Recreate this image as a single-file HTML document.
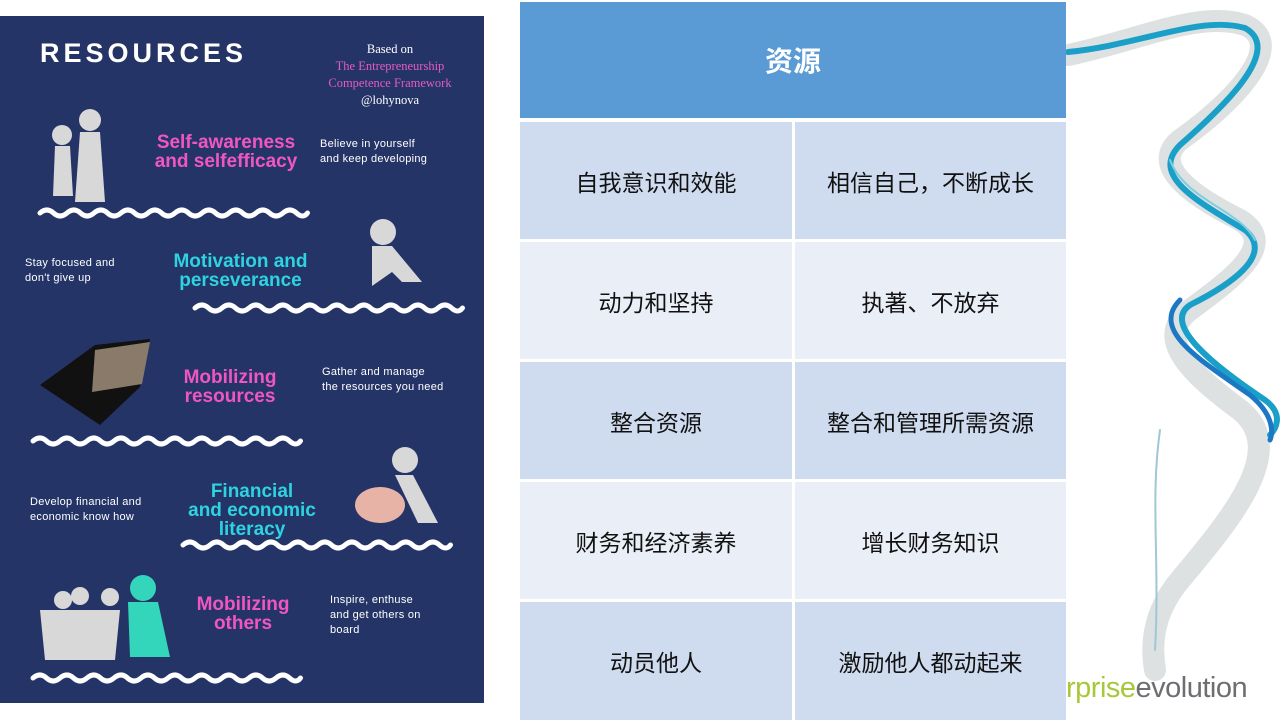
<!DOCTYPE html>
<html><head><meta charset="utf-8"><style>
body{margin:0;width:1280px;height:720px;background:#fff;position:relative;overflow:hidden;font-family:"Liberation Sans","Noto Sans CJK SC",sans-serif}
.p{position:absolute;left:0;top:16px;width:484px;height:687px;background:#253466}
.t{position:absolute;color:#fff;font-family:"Liberation Sans",sans-serif}
.h{font-weight:bold;line-height:19px;font-size:19px;text-align:center;position:absolute}
.s{font-size:11px;line-height:15px;color:#fff;position:absolute;letter-spacing:0.3px}
.c{position:absolute;display:flex;align-items:center;justify-content:center;font-size:23px;color:#111}
</style></head><body>
<div class="p"></div>
<div class="t" style="left:40px;top:38px;font-size:27px;font-weight:bold;letter-spacing:4px">RESOURCES</div>
<div class="t" style="left:300px;top:41px;width:180px;text-align:center;font-family:'Liberation Serif',serif;font-size:12.5px;line-height:17px">Based on<br><span style="color:#e45bc4">The Entrepreneurship<br>Competence Framework</span><br>@lohynova</div>
<div class="h" style="left:148px;top:133px;width:156px;color:#f056c3">Self-awareness<br>and selfefficacy</div>
<div class="s" style="left:320px;top:137px">Believe in yourself<br>and keep developing</div>
<div class="h" style="left:163px;top:252px;width:155px;color:#2ed2e0">Motivation and<br>perseverance</div>
<div class="s" style="left:25px;top:256px">Stay focused and<br>don't give up</div>
<div class="h" style="left:175px;top:368px;width:110px;color:#f056c3">Mobilizing<br>resources</div>
<div class="s" style="left:322px;top:365px">Gather and manage<br>the resources you need</div>
<div class="h" style="left:182px;top:482px;width:140px;color:#2ed2e0">Financial<br>and economic<br>literacy</div>
<div class="s" style="left:30px;top:495px">Develop financial and<br>economic know how</div>
<div class="h" style="left:188px;top:595px;width:110px;color:#f056c3">Mobilizing<br>others</div>
<div class="s" style="left:330px;top:593px">Inspire, enthuse<br>and get others on<br>board</div>
<svg width="1280" height="720" style="position:absolute;left:0;top:0" fill="none">
<g stroke="#fff" stroke-width="5" stroke-linecap="round">
<path d="M40 213 q7 -6 13.5 0 t13.5 0 t13.5 0 t13.5 0 t13.5 0 t13.5 0 t13.5 0 t13.5 0 t13.5 0 t13.5 0 t13.5 0 t13.5 0 t13.5 0 t13.5 0 t13.5 0 t13.5 0 t13.5 0 t13.5 0 t13.5 0 t11 0"/>
<path d="M195 308 q7 -6 13.5 0 t13.5 0 t13.5 0 t13.5 0 t13.5 0 t13.5 0 t13.5 0 t13.5 0 t13.5 0 t13.5 0 t13.5 0 t13.5 0 t13.5 0 t13.5 0 t13.5 0 t13.5 0 t13.5 0 t13.5 0 t13.5 0 t11 0"/>
<path d="M33 441 q7 -6 13.5 0 t13.5 0 t13.5 0 t13.5 0 t13.5 0 t13.5 0 t13.5 0 t13.5 0 t13.5 0 t13.5 0 t13.5 0 t13.5 0 t13.5 0 t13.5 0 t13.5 0 t13.5 0 t13.5 0 t13.5 0 t13.5 0 t11 0"/>
<path d="M183 545 q7 -6 13.5 0 t13.5 0 t13.5 0 t13.5 0 t13.5 0 t13.5 0 t13.5 0 t13.5 0 t13.5 0 t13.5 0 t13.5 0 t13.5 0 t13.5 0 t13.5 0 t13.5 0 t13.5 0 t13.5 0 t13.5 0 t13.5 0 t11 0"/>
<path d="M33 678 q7 -6 13.5 0 t13.5 0 t13.5 0 t13.5 0 t13.5 0 t13.5 0 t13.5 0 t13.5 0 t13.5 0 t13.5 0 t13.5 0 t13.5 0 t13.5 0 t13.5 0 t13.5 0 t13.5 0 t13.5 0 t13.5 0 t13.5 0 t11 0"/>
</g>
<!-- figures -->
<g fill="#d8d8d8">
<circle cx="90" cy="120" r="11"/><path d="M80 132 h20 l5 70 h-30z"/>
<circle cx="62" cy="135" r="10"/><path d="M55 146 h15 l3 50 h-20z"/>
<circle cx="383" cy="232" r="13"/><path d="M372 246 l20 0 l30 36 l-20 0 l-10 -10 l-20 14z"/>
<path d="M40 385 l55 -40 l55 -6 l-10 48 l-40 38 z" fill="#111"/>
<path d="M95 350 l55 -8 l-8 42 l-50 8z" fill="#8a7a6a"/>
<circle cx="405" cy="460" r="13"/><path d="M395 475 l18 0 l25 48 l-20 0z"/>
<ellipse cx="380" cy="505" rx="25" ry="18" fill="#e7b3a6"/>
<circle cx="63" cy="600" r="9"/><circle cx="80" cy="596" r="9"/><circle cx="110" cy="597" r="9"/>
<path d="M40 610 l80 0 l-5 50 l-70 0z"/>
<circle cx="143" cy="588" r="13" fill="#33d6bb"/><path d="M128 602 l30 0 l12 55 l-40 0z" fill="#33d6bb"/>
</g>
<!-- ribbon -->
<g stroke-linecap="round">
<path d="M1068 55 C1140 40 1200 10 1245 25 C1290 45 1230 105 1180 140 C1150 165 1190 195 1240 220 C1280 245 1230 280 1190 310 C1150 340 1200 380 1240 410 C1290 450 1230 520 1180 580 C1155 610 1150 640 1155 670" stroke="#d0d4d6" stroke-width="22" opacity="0.7"/>
<path d="M1068 52 C1140 45 1200 15 1245 28 C1285 50 1220 110 1180 145 C1150 175 1195 200 1245 230 C1275 255 1230 285 1190 305 C1160 325 1220 370 1265 400 C1285 415 1275 430 1270 435" stroke="#1aa0c8" stroke-width="6"/>
<path d="M1180 300 C1150 330 1200 360 1250 395 C1280 420 1270 440 1270 440" stroke="#1d78c3" stroke-width="5"/>
<path d="M1170 160 C1185 200 1240 210 1255 240" stroke="#7fcde0" stroke-width="2"/>
<path d="M1160 430 C1150 500 1160 560 1155 650" stroke="#9fc8d6" stroke-width="2"/>
</g>
</svg>
<div style="position:absolute;left:520px;top:2px;width:546px;height:116px;background:#5b9bd5;color:#fff;font-size:28px;font-weight:bold;display:flex;align-items:center;justify-content:center">资源</div>
<div class="c" style="left:520px;top:122px;width:272px;height:117px;background:#cfdbef">自我意识和效能</div>
<div class="c" style="left:795px;top:122px;width:271px;height:117px;background:#cfdbef">相信自己，不断成长</div>
<div class="c" style="left:520px;top:242px;width:272px;height:117px;background:#e9eef7">动力和坚持</div>
<div class="c" style="left:795px;top:242px;width:271px;height:117px;background:#e9eef7">执著、不放弃</div>
<div class="c" style="left:520px;top:362px;width:272px;height:117px;background:#cfdbef">整合资源</div>
<div class="c" style="left:795px;top:362px;width:271px;height:117px;background:#cfdbef">整合和管理所需资源</div>
<div class="c" style="left:520px;top:482px;width:272px;height:117px;background:#e9eef7">财务和经济素养</div>
<div class="c" style="left:795px;top:482px;width:271px;height:117px;background:#e9eef7">增长财务知识</div>
<div class="c" style="left:520px;top:602px;width:272px;height:118px;background:#cfdbef">动员他人</div>
<div class="c" style="left:795px;top:602px;width:271px;height:118px;background:#cfdbef">激励他人都动起来</div>
<div style="position:absolute;left:1066px;top:672px;font-size:29px;letter-spacing:-0.5px;white-space:nowrap"><span style="color:#a8c83a">rprise</span><span style="color:#6d6e71">evolution</span></div>
</body></html>
